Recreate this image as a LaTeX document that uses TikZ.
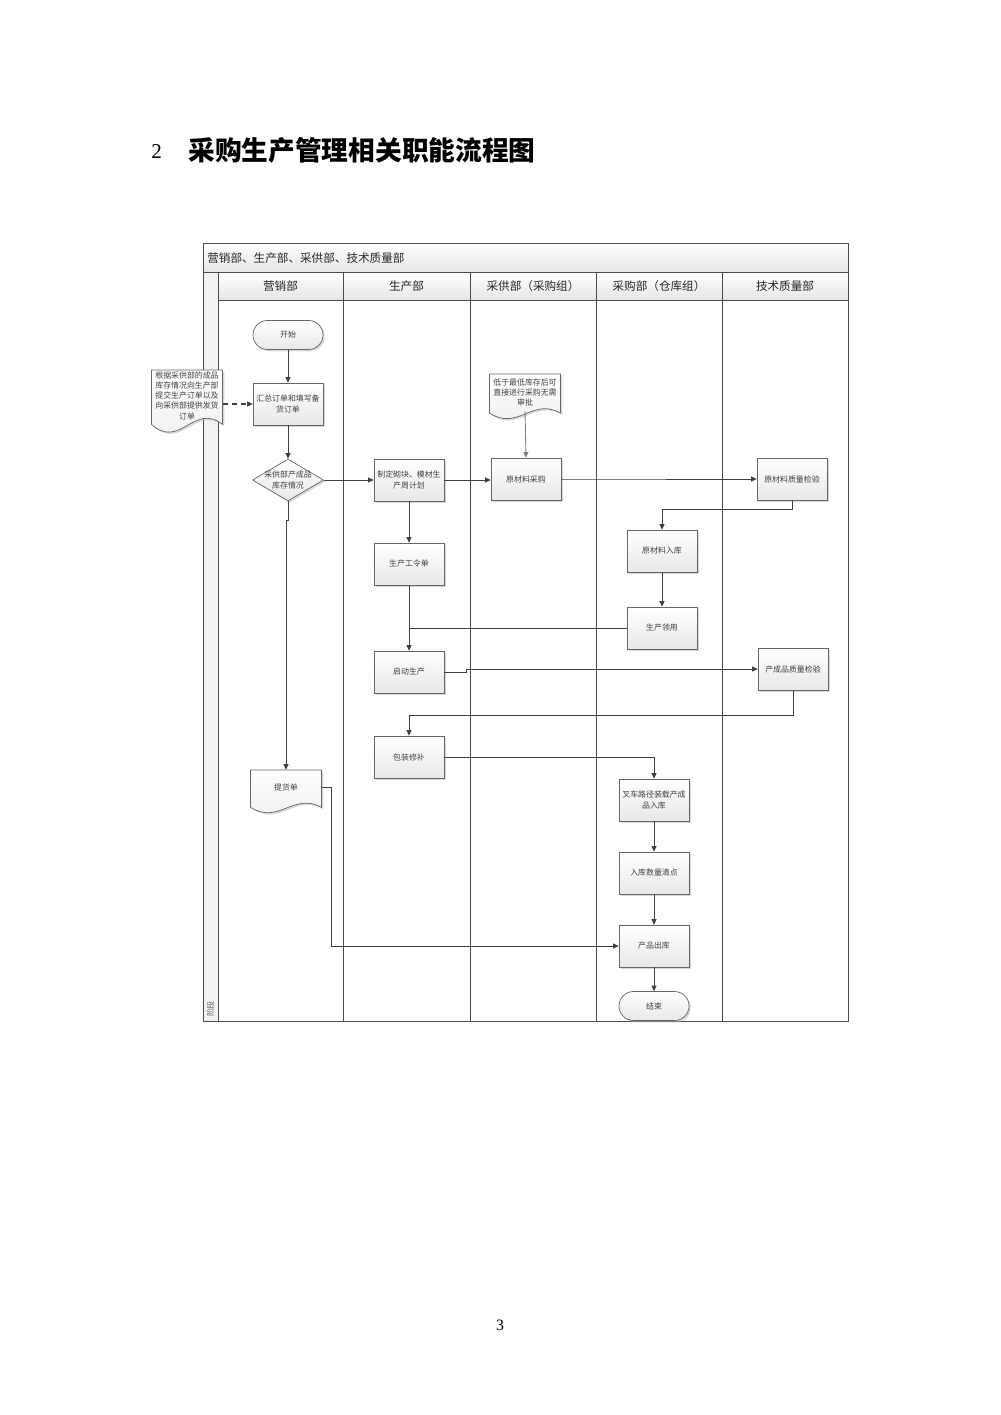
\documentclass[tikz,border=0pt]{standalone}
\usepackage{fontspec}
\setmainfont{Noto Sans CJK SC}
\newfontfamily\serifnum{Liberation Serif}
\usetikzlibrary{arrows.meta,shapes.geometric,shadows,calc}
\tikzset{
  shad/.style={drop shadow={shadow xshift=0.35mm,shadow yshift=-0.35mm,fill=black!30,opacity=0.5}},
  proc/.style={draw=black!60,line width=0.4pt,top color=white,bottom color=black!9,shad,
    minimum width=14mm,minimum height=8.4mm,inner sep=0.5pt,align=center,
    font=\fontsize{4.5}{5.8}\selectfont,text=black!75},
  term/.style={proc,rounded corners=2.9mm,minimum height=5.8mm},
  dia/.style={diamond,draw=black!60,line width=0.4pt,top color=white,bottom color=black!9,shad,
    minimum width=14.2mm,minimum height=8.4mm,inner sep=0pt},
  txt/.style={align=center,inner sep=0pt,font=\fontsize{4.5}{5.8}\selectfont,text=black!75},
  docstyle/.style={draw=black!60,line width=0.4pt,top color=white,bottom color=black!7,shad},
  doctext/.style={align=center,inner sep=0pt,font=\fontsize{4.5}{5.8}\selectfont,text=black!75},
  conn/.style={draw=black!75,line width=0.5pt,-{Triangle[length=1.1mm,width=1mm]}},
  plainline/.style={draw=black!75,line width=0.5pt},
  poolline/.style={draw=black!70,line width=0.5pt},
  hdr/.style={font=\fontsize{6.6}{7}\selectfont,text=black!85,inner sep=0pt},
}
% #1 name, #2 cx, #3 top, #4 bottom, #5 width, #6 text
\newcommand\docnode[6]{%
  \path[docstyle] ({#2-#5/2},#3) -- ({#2+#5/2},#3) -- ({#2+#5/2},{#3+0.85*(#4-#3)})
    .. controls ({#2+0.1*#5},{#3+0.5*(#4-#3)}) and ({#2-0.1*#5},{#3+1.25*(#4-#3)}) ..
    ({#2-#5/2},{#3+0.85*(#4-#3)}) -- cycle;
  \node[doctext,minimum width={#5*0.2mm},minimum height={0.8*(#4-#3)*0.2mm}] (#1) at (#2,{#3+0.4*(#4-#3)}) {#6};
}
\begin{document}
\begin{tikzpicture}[x=0.2mm,y=-0.2mm]
\useasboundingbox (0,0) rectangle (1000,1415);
% page texts
\node[font=\serifnum\fontsize{12}{12}\selectfont,anchor=west,inner sep=0] (num) at (151,152) {2};
\node[font=\fontsize{15.2}{16}\selectfont\bfseries,anchor=west,inner sep=0] (title) at (188,150) {采购生产管理相关职能流程图};
\node[font=\serifnum\fontsize{9}{9}\selectfont,inner sep=0] (pg) at (500,1325) {3};
% pool
\path[top color=white,bottom color=black!10] (203,243) rectangle (848,272);
\path[fill=black!5] (203,272) rectangle (218,1021);
\path[top color=white,bottom color=black!10] (218,272) rectangle (848,300);
\draw[poolline] (203,243) rectangle (848,1021);
\draw[poolline] (203,272) -- (848,272);
\draw[poolline] (218,300) -- (848,300);
\draw[poolline] (218,272) -- (218,1021);
\foreach \xx in {343,470,596,722} \draw[poolline] (\xx,272) -- (\xx,1021);
\node[hdr,anchor=west] (pooltitle) at (207,258) {营销部、生产部、采供部、技术质量部};
\node[hdr] (l1) at (280.5,286) {营销部};
\node[hdr] (l2) at (406.5,286) {生产部};
\node[hdr] (l3) at (533,286) {采供部（采购组）};
\node[hdr] (l4) at (659,286) {采购部（仓库组）};
\node[hdr] (l5) at (785,286) {技术质量部};
\node[txt,rotate=90,text=black!60] (stage) at (210.5,1009) {阶段};
% nodes
\node[term] (start) at (288,335) {开始};
\node[proc] (sum) at (288,404) {汇总订单和填写备\\货订单};
\docnode{doc1}{187}{370}{434}{71}{根据采供部的成品\\库存情况向生产部\\提交生产订单以及\\向采供部提供发货\\订单}
\node[dia] (dec) at (288,480) {};
\node[txt] (dectext) at (dec) {采供部产成品\\库存情况};
\node[proc] (plan) at (409,480) {制定砌块、模材生\\产周计划};
\node[proc] (buy) at (526,479) {原材料采购};
\docnode{doc2}{525}{374}{420}{71}{低于最低库存后可\\直接进行采购无需\\审批}
\node[proc] (qc1) at (792,479) {原材料质量检验};
\node[proc] (in1) at (662,551) {原材料入库};
\node[proc] (use) at (662,628) {生产领用};
\node[proc] (order) at (409,564) {生产工令单};
\node[proc] (startprod) at (409,672) {启动生产};
\node[proc] (qc2) at (793,669) {产成品质量检验};
\node[proc] (pack) at (409,757) {包装修补};
\node[proc] (fork) at (654,800) {叉车路径装载产成\\品入库};
\node[proc] (count) at (654,873) {入库数量清点};
\node[proc] (out) at (654,946) {产品出库};
\node[term] (end) at (654,1006) {结束};
\docnode{bill}{286}{770}{814}{71}{提货单}
% connectors
\draw[conn] (start) -- (sum);
\draw[conn,dash pattern=on 1mm off 0.8mm,line width=0.6pt] (doc1.east |- sum.west) -- (sum.west);
\draw[conn] (sum) -- (dec);
\draw[conn] (dec.east) -- (plan.west);
\draw[conn] (plan.east) -- (buy.west |- plan.east);
\draw[conn,draw=black!50] (doc2.south) -- (buy.north);
\draw[conn] (buy.east) -- ++(21,0) |- (qc1.west);
\draw[conn] (qc1.south) -- ++(0,9) -| (in1.north);
\draw[conn] (in1) -- (use);
\draw[plainline] (use.west) -- (order.south |- use.west);
\draw[conn] (plan) -- (order);
\draw[conn] (order) -- (startprod);
\draw[conn] (startprod.east) -- ++(22,0) |- (qc2.west);
\draw[conn] (qc2.south) -- ++(0,25) -| (pack.north);
\draw[conn] (pack.east) -| (fork.north);
\draw[conn] (fork) -- (count);
\draw[conn] (count) -- (out);
\draw[conn] (out) -- (end);
\draw[conn] (dec.south) -- ++(0,19) -| (bill.north);
\draw[conn] (bill.east) -- ++(10,0) |- (out.west);
\end{tikzpicture}
\end{document}
